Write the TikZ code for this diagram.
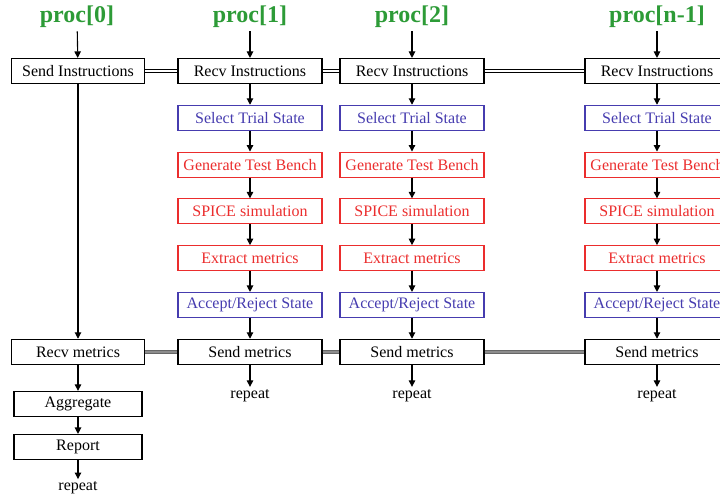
\documentclass[tikz,border=0pt]{standalone}
\usepackage{fontspec}
\setmainfont{Liberation Serif}
\usetikzlibrary{positioning, arrows.meta}
\definecolor{procgreen}{RGB}{45,155,55}
\definecolor{stateblue}{RGB}{70,60,175}
\definecolor{simred}{RGB}{235,45,45}

\begin{document}
\begin{tikzpicture}[
    x=1pt, y=-1pt,
    box/.style={draw, rectangle, line width=1.1pt, minimum width=144pt, minimum height=25pt, inner sep=2pt, font=\fontsize{16}{18}\selectfont, align=center},
    bluebox/.style={box, draw=stateblue, text=stateblue},
    redbox/.style={box, draw=simred, text=simred},
    lbl/.style={font=\fontsize{24}{26}\selectfont\bfseries, text=procgreen},
    rep/.style={font=\fontsize{16}{18}\selectfont, inner sep=2pt},
    arr/.style={-{Triangle[length=6.5pt,width=6.5pt]}, line width=1.1pt},
    link/.style={double, double distance=2pt, line width=0.8pt},
    mlink/.style={double=black!45, double distance=2.4pt, draw=black!60, line width=0.9pt},
    node distance=20.7pt
]
    \useasboundingbox (0,0) rectangle (720,495);
    \clip (0,0) rectangle (720,495);

    % worker columns
    \foreach \c/\x/\n in {1/250/1, 2/412/2, 3/657/n-1} {
        \node[lbl] (p\c) at (\x,17) {proc[\n]};
        \node[box] (rin\c) at (\x,71) {Recv Instructions};
        \node[bluebox, below=of rin\c] (sel\c) {Select Trial State};
        \node[redbox, below=of sel\c] (gen\c) {Generate Test Bench};
        \node[redbox, below=of gen\c] (sim\c) {SPICE simulation};
        \node[redbox, below=of sim\c] (ext\c) {Extract metrics};
        \node[bluebox, below=of ext\c] (acc\c) {Accept/Reject State};
        \node[box, below=of acc\c] (smet\c) {Send metrics};
        \node[rep, below=22pt of smet\c] (rep\c) {repeat};
        \foreach \a/\b in {p/rin, rin/sel, sel/gen, gen/sim, sim/ext, ext/acc, acc/smet, smet/rep}
            \draw[arr] (\a\c) -- (\b\c);
    }

    % master column
    \node[lbl] (p0) at (77,17) {proc[0]};
    \node[box, minimum width=133pt] (send0) at (78,71) {Send Instructions};
    \node[box, minimum width=133pt] (rmet0) at (send0 |- smet1) {Recv metrics};
    \node[box, minimum width=128pt, below=26pt of rmet0] (agg) {Aggregate};
    \node[box, minimum width=128pt, below=17pt of agg] (report) {Report};
    \node[rep, below=19pt of report] (rep0) {repeat};

    \draw[arr] (p0) -- (send0);
    \draw[arr] (send0) -- (rmet0);
    \draw[arr] (rmet0) -- (agg);
    \draw[arr] (agg) -- (report);
    \draw[arr] (report) -- (rep0);

    % message links
    \draw[link] (send0) -- (rin1);
    \draw[link] (rin1) -- (rin2);
    \draw[link] (rin2) -- (rin3);
    \draw[mlink] (rmet0) -- (smet1);
    \draw[mlink] (smet1) -- (smet2);
    \draw[mlink] (smet2) -- (smet3);
\end{tikzpicture}
\end{document}
